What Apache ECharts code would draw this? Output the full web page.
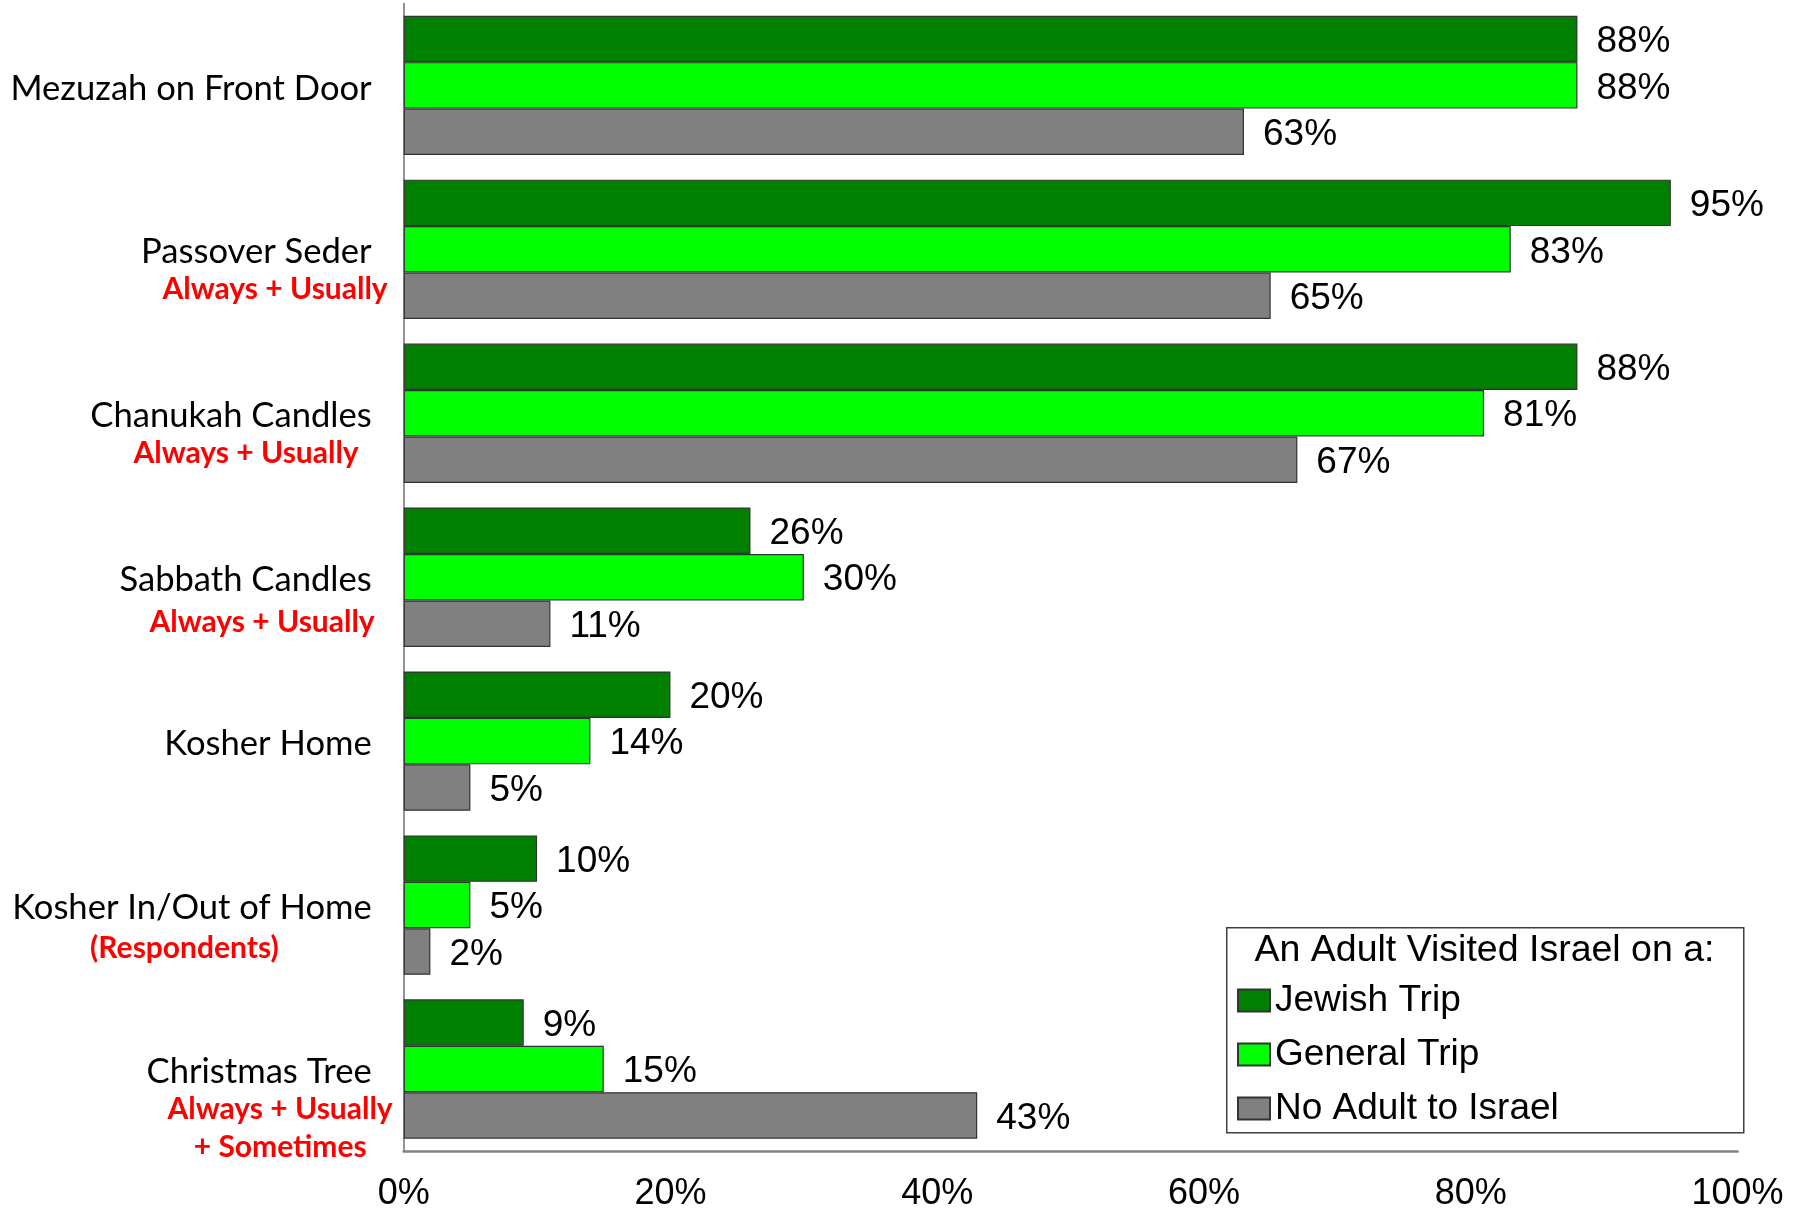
<!DOCTYPE html>
<html>
<head>
<meta charset="utf-8">
<script src="https://cdn.jsdelivr.net/npm/echarts@6/dist/echarts.min.js"></script>
<style>
  html, body { margin: 0; padding: 0; background: #fff; }
  #main { width: 1808px; height: 1212px; }
</style>
</head>
<body>
<div id="main"></div>
<script>
// categories, top to bottom
const categories = [
  'Mezuzah on Front Door',
  'Passover Seder',
  'Chanukah Candles',
  'Sabbath Candles',
  'Kosher Home',
  'Kosher In/Out of Home',
  'Christmas Tree'
];
// red qualifier lines under some categories
const subLabels = [
  [],
  ['Always + Usually'],
  ['Always + Usually'],
  ['Always + Usually'],
  [],
  ['(Respondents)'],
  ['Always + Usually', '+ Sometimes']
];
const seriesNames = ['Jewish Trip', 'General Trip', 'No Adult to Israel'];
const jewishTrip = [88, 95, 88, 26, 20, 10, 9];
const generalTrip = [88, 83, 81, 30, 14, 5, 15];
const noAdult = [63, 65, 67, 11, 5, 2, 43];
const xTicks = [0, 20, 40, 60, 80, 100];
const legendTitle = 'An Adult Visited Israel on a:';

const colors = ['#008000', '#00FF00', '#808080'];
const sans = '"Liberation Sans", Arial, sans-serif';
const labelFont = 'Lato, "Open Sans", sans-serif';

// per-line layout of the red sub lines: [lineHeight, rightPadding]
const subStyle = {
  1: [[36, 5]],
  2: [[36, 34]],
  3: [[47, 18]],
  5: [[42, 114]],
  6: [[36, 0], [40, 26]]
};
const nudge = 6; // pushes every label block down by half of this

const rich = {
  m: { fontFamily: labelFont, fontSize: 34.6, color: '#000', lineHeight: 38, align: 'right', padding: [0, 21, 0, 0] }
};
categories.forEach(function (c, k) {
  const subs = subStyle[k] || [];
  let below = 0;
  subs.forEach(function (s, j) {
    below += s[0];
    rich['r' + k + '_' + j] = {
      fontFamily: labelFont, fontSize: 30, fontWeight: 'bold', color: '#FF0000',
      lineHeight: s[0], align: 'right', padding: [0, s[1], 0, 0]
    };
  });
  rich['e' + k] = { fontSize: 4, lineHeight: below + nudge, align: 'right' };
});

function catLabel(value, idx) {
  const subs = subLabels[idx] || [];
  // blank line on top keeps the main line on its band centre
  const lines = ['{e' + idx + '| }', '{m|' + value + '}'];
  subs.forEach(function (s, j) { lines.push('{r' + idx + '_' + j + '|' + s + '}'); });
  return lines.join('\n');
}

const chart = echarts.init(document.getElementById('main'));

const valueLabel = {
  show: true,
  position: 'right',
  distance: 19,
  offset: [0, 3],
  formatter: '{c}%',
  color: '#000',
  fontFamily: sans,
  fontSize: 37
};

function barSeries(name, data, color) {
  return {
    name: name,
    type: 'bar',
    data: data,
    barGap: '0%',
    barCategoryGap: '15%',
    itemStyle: { color: color, borderColor: '#333333', borderWidth: 1.2 },
    label: valueLabel,
    emphasis: { disabled: true },
    animation: false
  };
}

chart.setOption({
  animation: false,
  grid: { left: 403.7, right: 70.5, top: 3.4, bottom: 59.7, containLabel: false },
  xAxis: {
    type: 'value',
    min: 0,
    max: 100,
    interval: 20,
    splitLine: { show: false },
    axisTick: { show: false },
    axisLine: { show: true, lineStyle: { color: '#808080', width: 2.5 } },
    axisLabel: {
      margin: 25,
      color: '#000',
      fontFamily: sans,
      fontSize: 36,
      formatter: function (v) { return xTicks.indexOf(v) >= 0 ? v + '%' : ''; }
    }
  },
  yAxis: {
    type: 'category',
    inverse: true,
    data: categories,
    axisTick: { show: false },
    axisLine: { show: true, lineStyle: { color: '#707070', width: 1.5 } },
    axisLabel: {
      margin: 11,
      align: 'right',
      interval: 0,
      formatter: catLabel,
      rich: rich
    }
  },
  legend: {
    orient: 'vertical',
    left: 1237,
    top: 982,
    padding: 0,
    icon: 'rect',
    itemWidth: 32,
    itemHeight: 22,
    itemGap: 17,
    selectedMode: false,
    data: seriesNames,
    textStyle: { color: '#000', fontFamily: sans, fontSize: 37, padding: [0, 0, 0, 0] }
  },
  graphic: [
    {
      type: 'rect',
      left: 1226,
      top: 927,
      z: 0,
      shape: { width: 517, height: 205 },
      style: { fill: '#fff', stroke: '#404040', lineWidth: 1.5 }
    },
    {
      type: 'text',
      x: 1484.5,
      y: 951,
      z: 1,
      style: {
        text: legendTitle,
        fill: '#000',
        font: '37.5px "Liberation Sans", Arial, sans-serif',
        textAlign: 'center',
        textVerticalAlign: 'middle'
      }
    }
  ],
  series: [
    barSeries(seriesNames[0], jewishTrip, colors[0]),
    barSeries(seriesNames[1], generalTrip, colors[1]),
    barSeries(seriesNames[2], noAdult, colors[2])
  ]
});
</script>
</body>
</html>
